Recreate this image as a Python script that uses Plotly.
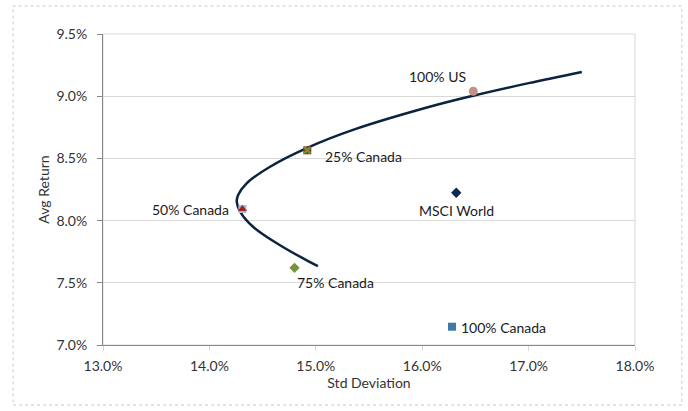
import plotly.graph_objects as go

# Efficient frontier curve (Std Deviation %, Avg Return %)
frontier_sd = [15.02, 14.91, 14.66, 14.41, 14.29, 14.257, 14.27, 14.35, 14.57, 14.92, 15.37, 16.07, 16.48, 17.0, 17.5]
frontier_ret = [7.635, 7.683, 7.804, 7.951, 8.071, 8.152, 8.206, 8.30, 8.433, 8.585, 8.735, 8.915, 9.004, 9.105, 9.195]

# Portfolio points
names = ["100% US", "25% Canada", "50% Canada", "75% Canada", "MSCI World", "100% Canada"]
point_sd = [16.48, 14.92, 14.31, 14.80, 16.32, 16.28]
point_ret = [9.04, 8.565, 8.093, 7.62, 8.224, 7.147]

# x/y tick values
x_ticks = [13.0, 14.0, 15.0, 16.0, 17.0, 18.0]
y_ticks = [7.0, 7.5, 8.0, 8.5, 9.0, 9.5]

FONT = "Lato"
FS = 14
fig = go.Figure()

fig.add_trace(go.Scatter(
    x=frontier_sd, y=frontier_ret, mode="lines",
    line=dict(color="#0c2340", width=2.5, shape="spline", smoothing=1.0),
    hoverinfo="skip", showlegend=False))

# marker styles per point (overlaid where the original shows stacked markers)
styles = {
    "100% US": [dict(symbol="circle", color="#c3918b", size=9)],
    "25% Canada": [dict(symbol="square", color="#8e3b24", size=8),
                   dict(symbol="x-thin", color="#6f9a3a", size=6, line=dict(width=2, color="#6f9a3a"))],
    "50% Canada": [dict(symbol="square", color="#9dbbe0", size=8),
                   dict(symbol="triangle-up", color="#a3231e", size=8)],
    "75% Canada": [dict(symbol="diamond", color="#77933c", size=8)],
    "MSCI World": [dict(symbol="diamond", color="#0f2a50", size=8)],
    "100% Canada": [dict(symbol="square", color="#3f78a9", size=8)],
}

for n, sx, sy in zip(names, point_sd, point_ret):
    for st in styles[n]:
        m = dict(st)
        if "line" not in m:
            m["line"] = dict(width=0)
        fig.add_trace(go.Scatter(x=[sx], y=[sy], mode="markers", marker=m,
                                 hoverinfo="skip", showlegend=False))

# label placement (offsets in pixels relative to the point)
label_pos = {
    "100% US": dict(xanchor="center", xshift=-36, yshift=15),
    "25% Canada": dict(xanchor="left", xshift=16, yshift=-6),
    "50% Canada": dict(xanchor="right", xshift=-11, yshift=0),
    "75% Canada": dict(xanchor="left", xshift=0, yshift=-15),
    "MSCI World": dict(xanchor="center", xshift=0, yshift=-18),
    "100% Canada": dict(xanchor="left", xshift=7, yshift=-1),
}
for n, sx, sy in zip(names, point_sd, point_ret):
    fig.add_annotation(x=sx, y=sy, text=n, showarrow=False,
                       font=dict(family=FONT, size=FS, color="#1a1a1a"),
                       yanchor="middle", **label_pos[n])

# plot-area border (light) and outer dotted chart border
fig.add_shape(type="rect", xref="paper", yref="paper", x0=0, x1=1, y0=0, y1=1,
              line=dict(color="#d9d9d9", width=1), layer="below")
fig.add_shape(type="rect", xref="paper", yref="paper",
              x0=-0.169, x1=1.088, y0=-0.193, y1=1.090,
              line=dict(color="#c8c8c8", width=1, dash="dot"), layer="below")

fig.update_layout(
    width=688, height=411,
    margin=dict(l=103, r=53, t=34, b=66),
    paper_bgcolor="white", plot_bgcolor="white",
    font=dict(family=FONT, size=FS, color="#333333"),
    showlegend=False,
    xaxis=dict(range=[13.0, 18.0], tickvals=x_ticks,
               ticktext=[f"{v:.1f}%" for v in x_ticks],
               showgrid=False, zeroline=False,
               showline=True, linecolor="#868686", linewidth=1,
               ticks="outside", ticklen=5, tickcolor="#d9d9d9",
               ticklabelstandoff=3,
               tickfont=dict(family=FONT, size=FS, color="#333333"),
               title=dict(text="Std Deviation", standoff=5,
                          font=dict(family=FONT, size=FS, color="#333333"))),
    yaxis=dict(range=[7.0, 9.5], tickvals=y_ticks,
               ticktext=[f"{v:.1f}%" for v in y_ticks],
               showgrid=True, gridcolor="#d9d9d9", gridwidth=1, zeroline=False,
               showline=True, linecolor="#868686", linewidth=1,
               ticks="outside", ticklen=5, tickcolor="#868686",
               ticklabelstandoff=7,
               tickfont=dict(family=FONT, size=FS, color="#333333"),
               title=dict(text="Avg Return", standoff=3,
                          font=dict(family=FONT, size=FS, color="#333333"))),
)

fig.write_html("out.html")
